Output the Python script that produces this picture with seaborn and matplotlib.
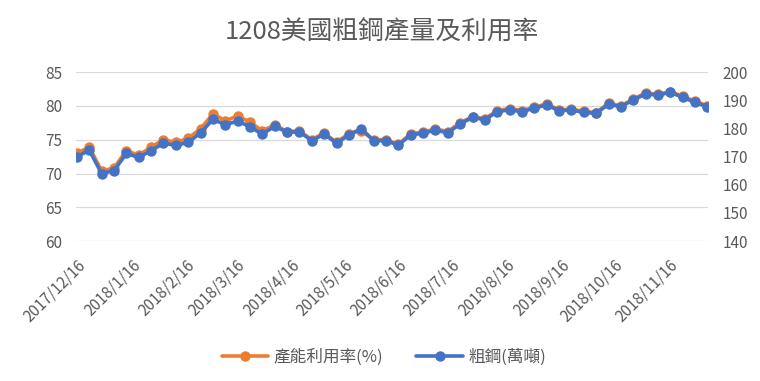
import matplotlib
matplotlib.use("Agg")
import matplotlib.pyplot as plt
import seaborn as sns
import pandas as pd

# weekly data, weeks ending Saturday
weeks = pd.date_range("2017-12-16", periods=52, freq="7D")

utilization = [73.0, 73.9, 70.4, 70.8, 73.4, 72.7, 73.9, 75.0, 74.6, 75.2,
               76.6, 78.8, 77.8, 78.5, 77.6, 76.3, 77.2, 76.2, 76.3, 75.0,
               76.0, 74.6, 75.9, 76.3, 75.0, 75.0, 74.3, 75.9, 76.1, 76.6,
               76.2, 77.5, 78.4, 78.1, 79.3, 79.6, 79.3, 79.8, 80.3, 79.4,
               79.5, 79.2, 79.0, 80.4, 80.0, 81.0, 81.9, 81.7, 82.1, 81.4,
               80.7, 80.0]

steel = [169.9, 172.3, 164.0, 165.0, 171.1, 169.7, 172.1, 174.7, 174.0, 175.0,
         178.4, 183.2, 181.3, 182.6, 180.6, 177.9, 180.8, 178.6, 178.8, 175.6,
         178.0, 174.7, 177.7, 179.9, 175.7, 175.6, 174.1, 177.7, 178.3, 179.4,
         178.4, 181.6, 183.9, 183.1, 185.9, 186.6, 185.9, 187.2, 188.3, 186.3,
         186.5, 185.7, 185.3, 188.6, 187.7, 190.1, 192.2, 191.8, 192.8, 191.0,
         189.2, 187.7]

tick_dates = ["2017-12-16", "2018-01-16", "2018-02-16", "2018-03-16",
              "2018-04-16", "2018-05-16", "2018-06-16", "2018-07-16",
              "2018-08-16", "2018-09-16", "2018-10-16", "2018-11-16"]
tick_labels = ["2017/12/16", "2018/1/16", "2018/2/16", "2018/3/16",
               "2018/4/16", "2018/5/16", "2018/6/16", "2018/7/16",
               "2018/8/16", "2018/9/16", "2018/10/16", "2018/11/16"]

title = "1208美國粗鋼產量及利用率"
label_util = "產能利用率(%)"
label_steel = "粗鋼(萬噸)"

sns.set_theme(style="white")
plt.rcParams["font.family"] = ["Noto Sans CJK TC", "DejaVu Sans"]

txt = "#595959"
orange = "#ED7D31"
blue = "#4472C4"

df = pd.DataFrame({"week": weeks, "util": utilization, "steel": steel})

fig = plt.figure(figsize=(7.6, 3.81), dpi=100)
ax = fig.add_axes([0.1, 0.367, 0.832, 0.444])
ax2 = ax.twinx()

sns.lineplot(data=df, x="week", y="util", ax=ax, color=orange, marker="o",
             lw=2.6, markersize=7.5, markeredgewidth=0, label=label_util, legend=False)
sns.lineplot(data=df, x="week", y="steel", ax=ax2, color=blue, marker="o",
             lw=2.6, markersize=7.5, markeredgewidth=0, label=label_steel, legend=False)

ax.set_ylim(60, 85)
ax.set_yticks(range(60, 86, 5))
ax2.set_ylim(140, 200)
ax2.set_yticks(range(140, 201, 10))
ax.set_xlim(weeks[0] - pd.Timedelta(hours=12), weeks[-1] + pd.Timedelta(hours=12))

ax.set_xticks(pd.to_datetime(tick_dates))
ax.set_xticklabels(tick_labels, rotation=45, ha="right", rotation_mode="anchor")

ax.yaxis.grid(True, color="#D9D9D9", lw=0.9)
ax.xaxis.grid(False)
ax.set_axisbelow(True)

for a in (ax, ax2):
    a.set_xlabel("")
    a.set_ylabel("")
    for s in a.spines.values():
        s.set_visible(False)
    a.tick_params(axis="both", length=0, labelsize=11, labelcolor=txt)
ax.tick_params(axis="x", pad=11)
ax.tick_params(axis="y", pad=10)
ax2.tick_params(axis="y", pad=10)

fig.text(0.503, 0.916, title, ha="center", va="center", fontsize=18.5, color=txt)

h1, l1 = ax.get_legend_handles_labels()
h2, l2 = ax2.get_legend_handles_labels()
fig.legend(h1 + h2, l1 + l2, loc="center", bbox_to_anchor=(0.505, 0.063), ncol=2,
           frameon=False, fontsize=12, handlelength=2.8, handletextpad=0.3,
           columnspacing=2, labelcolor=txt)

fig.savefig("out.png", dpi=100)
